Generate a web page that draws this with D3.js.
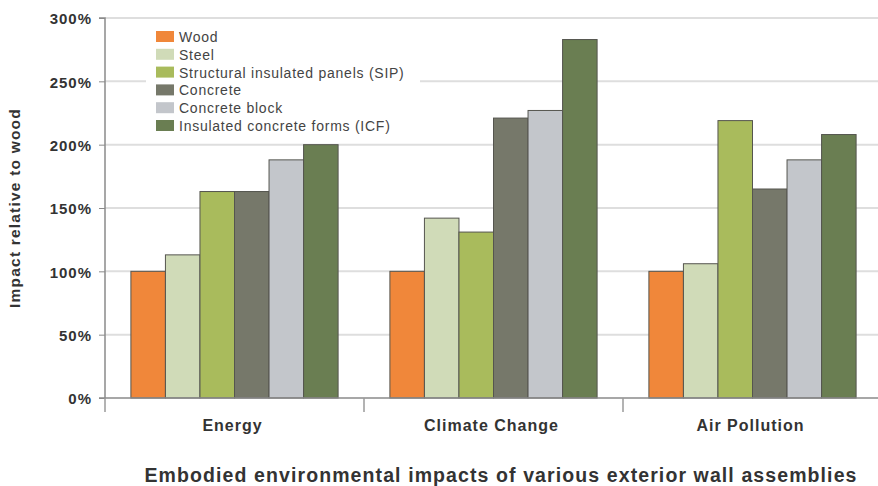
<!DOCTYPE html>
<html><head><meta charset="utf-8">
<script src="https://cdn.jsdelivr.net/npm/d3@7"></script>
<style>body{margin:0;background:#fff}svg{display:block;font-family:"Liberation Sans",Arial,sans-serif}</style>
</head><body><svg id="c" width="878" height="486"></svg>
<script>
const categories = ["Energy", "Climate Change", "Air Pollution"];
const seriesNames = ["Wood", "Steel", "Structural insulated panels (SIP)", "Concrete", "Concrete block", "Insulated concrete forms (ICF)"];
const seriesColors = ["#f0873a", "#d0dbb8", "#a9bb5c", "#76786a", "#c3c6cb", "#6a7e52"];
const wood     = [100, 100, 100];
const steel    = [113, 142, 106];
const sip      = [163, 131, 219];
const concrete = [163, 221, 165];
const block    = [188, 227, 188];
const icf      = [200, 283, 208];
const yTicks = [0, 50, 100, 150, 200, 250, 300];
const seriesValues = [wood, steel, sip, concrete, block, icf];

(function () {
const svg = d3.select("#c");
const mLeft = 105, mRight = 882, mTop = 18, mBottom = 398;
const x0 = d3.scaleBand().domain(categories).range([mLeft, mRight]).paddingInner(0).paddingOuter(0);
const x1 = d3.scaleBand().domain(d3.range(seriesNames.length)).range([0, x0.bandwidth()]).paddingOuter(0.75).paddingInner(0);
const y = d3.scaleLinear().domain([0, 300]).range([mBottom, mTop]);

// gridlines
svg.append("g").selectAll("line").data(yTicks.filter(d => d > 0)).join("line")
  .attr("x1", mLeft).attr("x2", 878).attr("y1", d => y(d)).attr("y2", d => y(d))
  .attr("stroke", "#dedede").attr("stroke-width", 2);

// legend background
svg.append("rect").attr("x", 146).attr("y", 27).attr("width", 274).attr("height", 108).attr("fill", "#fff");

// bars
const g = svg.append("g");
categories.forEach((c, ci) => {
  seriesValues.forEach((vals, si) => {
    g.append("rect")
      .attr("x", x0(c) + x1(si))
      .attr("y", y(vals[ci]))
      .attr("width", x1.bandwidth())
      .attr("height", y(0) - y(vals[ci]))
      .attr("fill", seriesColors[si])
      .attr("stroke", "#55554f").attr("stroke-width", 1);
  });
});

// y axis
const yAxis = d3.axisLeft(y).tickValues(yTicks).tickFormat(d => d + "%").tickSize(6).tickPadding(7);
const ya = svg.append("g").attr("transform", `translate(${mLeft},0)`).call(yAxis);
ya.select(".domain").attr("stroke", "#8a8a8a").attr("stroke-width", 1.5).attr("d", `M-6,${mTop}H0V${mBottom}H-6`);
ya.selectAll(".tick line").attr("stroke", "#8a8a8a");
ya.selectAll("text").attr("font-size", 15).attr("font-weight", "bold").attr("fill", "#333")
  .attr("letter-spacing", 1).attr("dy", "0.38em");

// x axis
svg.append("line").attr("x1", mLeft).attr("x2", 878).attr("y1", mBottom).attr("y2", mBottom).attr("stroke", "#8a8a8a").attr("stroke-width", 1.5);
const bounds = [mLeft, x0(categories[1]), x0(categories[2])];
svg.append("g").selectAll("line").data(bounds).join("line")
  .attr("x1", d => d).attr("x2", d => d).attr("y1", mBottom).attr("y2", mBottom + 14)
  .attr("stroke", "#9a9a9a").attr("stroke-width", 1.5);
svg.append("g").selectAll("text").data(categories).join("text")
  .attr("x", d => x0(d) + x0.bandwidth() / 2 - 2).attr("y", 431)
  .attr("text-anchor", "middle").attr("font-size", 16).attr("letter-spacing", 1)
  .attr("font-weight", "bold").attr("fill", "#333")
  .text(d => d);

// y title
svg.append("text").attr("transform", "translate(20,208) rotate(-90)").attr("text-anchor", "middle")
  .attr("font-size", 15.5).attr("letter-spacing", 1.2).attr("font-weight", "bold").attr("fill", "#333")
  .text("Impact relative to wood");

// chart title
svg.append("text").attr("x", 501).attr("y", 482).attr("text-anchor", "middle")
  .attr("font-size", 19.5).attr("letter-spacing", 1.1).attr("font-weight", "bold").attr("fill", "#333")
  .text("Embodied environmental impacts of various exterior wall assemblies");

// legend
const lg = svg.append("g").attr("transform", "translate(156,31)");
seriesNames.forEach((n, i) => {
  const row = lg.append("g").attr("transform", `translate(0,${i * 17.8})`);
  row.append("rect").attr("width", 18).attr("height", 11).attr("fill", seriesColors[i]);
  row.append("text").attr("x", 23).attr("y", 11).attr("font-size", 14).attr("letter-spacing", 0.75)
    .attr("fill", "#444").text(n);
});
})();
</script></body></html>
